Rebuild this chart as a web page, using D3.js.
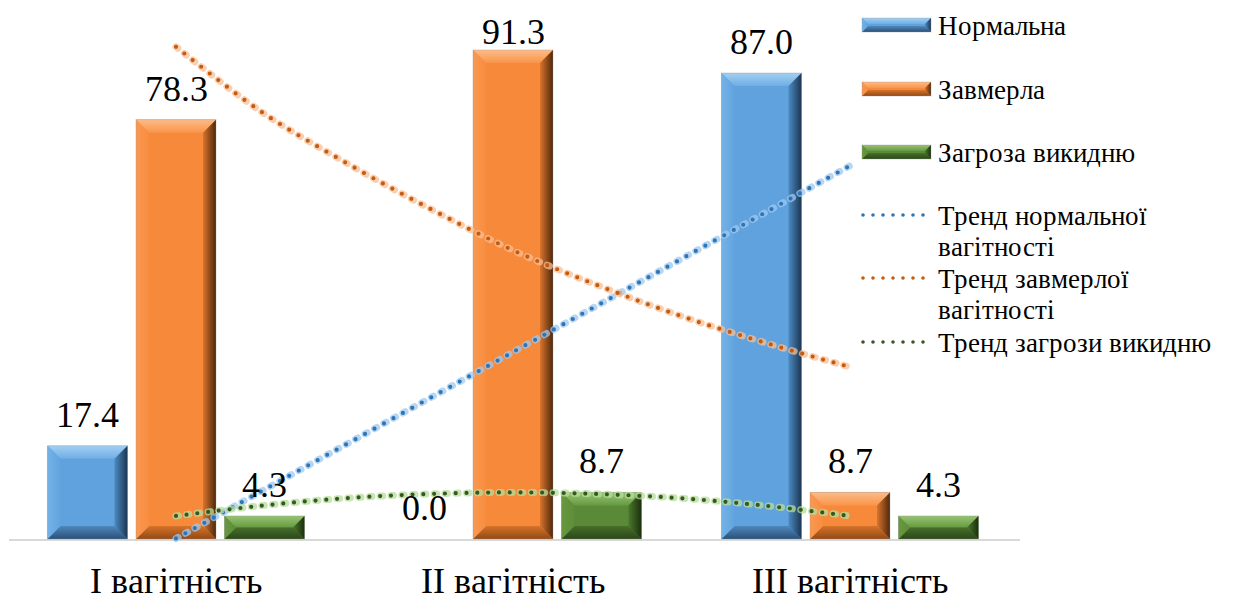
<!DOCTYPE html>
<html>
<head>
<meta charset="utf-8">
<script src="https://cdnjs.cloudflare.com/ajax/libs/d3/7.8.5/d3.min.js"></script>
<style>
  @font-face { font-family: "ChartSerif"; src: local("Liberation Serif"), local("LiberationSerif"), local("LiberationSerif-Regular"), local("Tinos"), local("Tinos-Regular"); }
</style>
</head>
<body style="margin:0">
<svg id="chart" width="1238" height="601"></svg>
<script>
// ---- data ----
const categories = ["I вагітність", "II вагітність", "III вагітність"];
const seriesNames = ["Нормальна", "Завмерла", "Загроза викидню"];
const normalValues = [17.4, 0.0, 87.0];
const frozenValues = [78.3, 91.3, 8.7];
const threatValues = [4.3, 8.7, 4.3];

const trendNames = ["Тренд нормальної вагітності", "Тренд завмерлої вагітності", "Тренд загрози викидню"];
// trend lines (position in category units, value)
const trendNormalPos = [1, 2, 3];
const trendNormalVal = [0.1, 34.9, 69.7];
const trendFrozenPos = [1, 1.25, 1.5, 1.75, 2, 2.25, 2.5, 2.75, 3];
const trendFrozenVal = [91.9, 79.9, 70.4, 61.8, 53.9, 47.4, 41.6, 36.6, 32.1];
const trendThreatPos = [1, 1.25, 1.5, 1.75, 2, 2.25, 2.5, 2.75, 3];
const trendThreatVal = [4.3, 6.2, 7.6, 8.4, 8.7, 8.4, 7.6, 6.2, 4.3];

// ---- styles ----
const FONT = '"ChartSerif", "Liberation Serif", "Times New Roman", serif';
const palette = {
  blue:   {base: "#5fa2de", topA: "#a3cff2", topB: "#6eaee5", leftA: "#74b2e7", leftB: "#62a4df", rightA: "#4d8ac2", rightB: "#1b3652", botA: "#4f88bd", botB: "#2a5079"},
  orange: {base: "#f7893b", topA: "#fdbb88", topB: "#f9954a", leftA: "#fa9850", leftB: "#f88d40", rightA: "#d9742d", rightB: "#4f280c", botA: "#d67329", botB: "#934915"},
  green:  {base: "#5a8a37", topA: "#97c472", topB: "#679a42", leftA: "#68993f", leftB: "#5d8d39", rightA: "#4a782c", rightB: "#1b2f0e", botA: "#476f2b", botB: "#2b4719"}
};
const seriesColors = ["blue", "orange", "green"];
const trendColors = [
  {dot: "#2e75b6", halo: "#9dc8f0"},
  {dot: "#c55a11", halo: "#f8bf94"},
  {dot: "#375623", halo: "#b4dd98"}
];

const svg = d3.select("#chart");
const defs = svg.append("defs");

function grad(id, x2, y2, a, b) {
  const g = defs.append("linearGradient").attr("id", id)
    .attr("x1", 0).attr("y1", 0).attr("x2", x2).attr("y2", y2);
  g.append("stop").attr("offset", "0%").attr("stop-color", a);
  g.append("stop").attr("offset", "100%").attr("stop-color", b);
}
Object.keys(palette).forEach(k => {
  const p = palette[k];
  grad("top-" + k, 0, 1, p.topA, p.topB);
  grad("left-" + k, 1, 0, p.leftA, p.leftB);
  grad("right-" + k, 1, 0, p.rightA, p.rightB);
  grad("bot-" + k, 0, 1, p.botA, p.botB);
});

function bevelBar(g, x, y, w, h, key, bmax) {
  if (h <= 0) return;
  const b = Math.min(bmax, h / 2, w / 2);
  const grp = g.append("g");
  grp.append("rect").attr("x", x).attr("y", y).attr("width", w).attr("height", h)
    .attr("fill", palette[key].base);
  const poly = (pts, fill) => grp.append("polygon")
    .attr("points", pts.map(p => p.join(",")).join(" ")).attr("fill", fill);
  poly([[x, y], [x + w, y], [x + w - b, y + b], [x + b, y + b]], `url(#top-${key})`);
  poly([[x, y + h], [x + w, y + h], [x + w - b, y + h - b], [x + b, y + h - b]], `url(#bot-${key})`);
  poly([[x, y], [x + b, y + b], [x + b, y + h - b], [x, y + h]], `url(#left-${key})`);
  poly([[x + w, y], [x + w - b, y + b], [x + w - b, y + h - b], [x + w, y + h]], `url(#right-${key})`);
  grp.append("rect").attr("x", x).attr("y", y).attr("width", w).attr("height", h)
    .attr("fill", "none").attr("stroke", "rgba(150,150,150,0.35)").attr("stroke-width", 1);
}

function addText(g, x, yPos, size, txt, anchor) {
  return g.append("text").attr("x", x).attr("y", yPos)
    .attr("text-anchor", anchor || "start").attr("font-size", size)
    .style("font-family", FONT).attr("fill", "#000")
    .text(txt);
}

// ---- scales ----
const x0 = d3.scaleBand().domain(categories).range([7.5, 1018.5]).paddingInner(0).paddingOuter(0);
const x1 = d3.scaleBand().domain(seriesNames).range([0, x0.bandwidth()]).paddingInner(0.096).paddingOuter(0.452);
const y = d3.scaleLinear().domain([0, 100]).range([539, 3.4]);
const xt = d3.scaleLinear().domain([1, 3])
  .range([x0(categories[0]) + x0.bandwidth() / 2, x0(categories[2]) + x0.bandwidth() / 2]);

const allSeries = [normalValues, frozenValues, threatValues];

// axis line
svg.append("line").attr("x1", 9).attr("x2", 1020).attr("y1", y(0) + 1).attr("y2", y(0) + 1)
  .attr("stroke", "#d9d9d9").attr("stroke-width", 2);

// bars
const barsG = svg.append("g");
categories.forEach((c, ci) => {
  seriesNames.forEach((s, si) => {
    const v = allSeries[si][ci];
    const bx = x0(c) + x1(s);
    bevelBar(barsG, bx, y(v), x1.bandwidth(), y(0) - y(v), seriesColors[si], 13);
  });
});

// trend lines
const trends = [
  [trendNormalPos, trendNormalVal],
  [trendFrozenPos, trendFrozenVal],
  [trendThreatPos, trendThreatVal]
];
const line = d3.line().x(d => xt(d[0])).y(d => y(d[1])).curve(d3.curveCatmullRom);
const trendG = svg.append("g");
trends.forEach((t, i) => {
  const pts = t[0].map((p, j) => [p, t[1][j]]);
  const dd = line(pts);
  trendG.append("path").attr("d", dd).attr("fill", "none")
    .attr("stroke", trendColors[i].halo).attr("stroke-width", 7).attr("stroke-linecap", "round")
    .attr("stroke-dasharray", "2.5 8.3").attr("opacity", 0.75);
  trendG.append("path").attr("d", dd).attr("fill", "none")
    .attr("stroke", trendColors[i].dot).attr("stroke-width", 4.2).attr("stroke-linecap", "round")
    .attr("stroke-dasharray", "0 10.8");
});

// value labels
const labelsG = svg.append("g");
categories.forEach((c, ci) => {
  seriesNames.forEach((s, si) => {
    const v = allSeries[si][ci];
    const cx = x0(c) + x1(s) + x1.bandwidth() / 2;
    const by = Math.max(y(v) - 19, 44);
    addText(labelsG, cx, by, 36, v.toFixed(1), "middle");
  });
});

// category labels
categories.forEach(c => {
  addText(svg, x0(c) + x0.bandwidth() / 2, 593, 36, c, "middle");
});

// legend
const lg = svg.append("g");
const legX = 862, legW = 69, legTextX = 938;
const legBarY = [25, 89, 152];
seriesNames.forEach((s, i) => {
  bevelBar(lg, legX, legBarY[i] - 7, legW, 14, seriesColors[i], 6);
  addText(lg, legTextX, legBarY[i] + 10, 27, s, "start");
});
const legTrendY = [215, 278, 342];
const trendLines = [["Тренд нормальної", "вагітності"], ["Тренд завмерлої", "вагітності"], ["Тренд загрози викидню"]];
trendNames.forEach((n, i) => {
  lg.append("line").attr("x1", legX + 1).attr("x2", legX + legW).attr("y1", legTrendY[i]).attr("y2", legTrendY[i])
    .attr("stroke", trendColors[i].dot).attr("stroke-width", 3.6).attr("stroke-linecap", "round")
    .attr("stroke-dasharray", "0 10");
  trendLines[i].forEach((ln, k) => {
    addText(lg, legTextX, legTrendY[i] + 10 + k * 31, 27, ln, "start");
  });
});
</script>
</body>
</html>
